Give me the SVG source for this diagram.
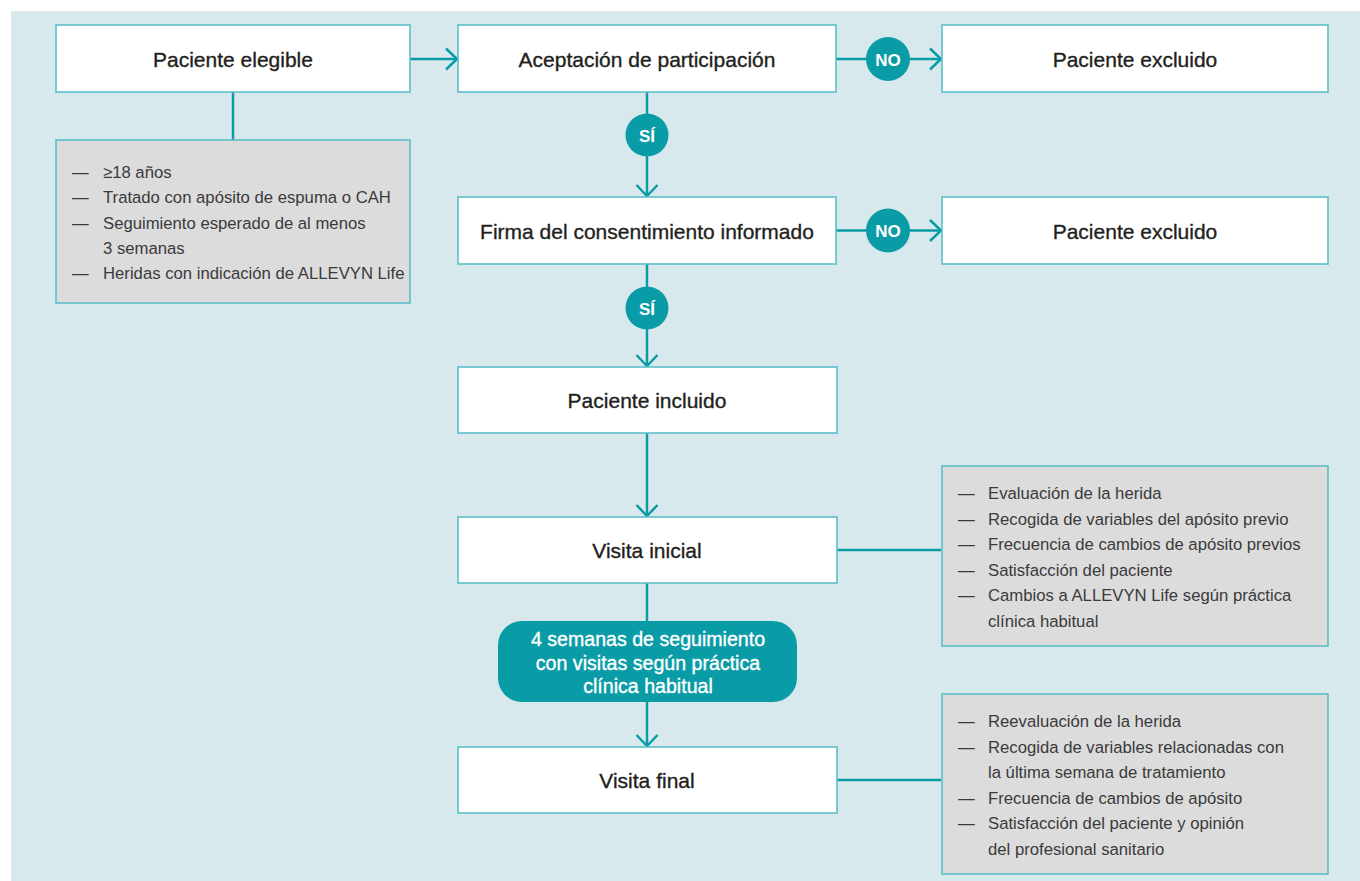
<svg xmlns="http://www.w3.org/2000/svg" width="1360" height="881" viewBox="0 0 1360 881">
<defs>
<marker id="arr" markerUnits="userSpaceOnUse" markerWidth="30" markerHeight="30" viewBox="-15 -15 30 30" refX="0" refY="0" orient="auto">
<path d="M-11,-10.5 L0,0 L-11,10.5" fill="none" stroke="#0a9ca6" stroke-width="2.5"/>
</marker>
</defs>
<style>
.bg{fill:#d8e9ee}
.box{fill:#ffffff;stroke:#5cbfc8;stroke-width:1.6}
.note{fill:#dcdcdd;stroke:#5cbfc8;stroke-width:1.6}
.title{font-family:"Liberation Sans",Arial,sans-serif;font-size:21px;fill:#231f20;stroke:#231f20;stroke-width:0.35;text-anchor:middle}
.ntext{font-family:"Liberation Sans",Arial,sans-serif;font-size:16.7px;fill:#3a3a3a}
.badge{fill:#0a9ca6}
.btext{font-family:"Liberation Sans",Arial,sans-serif;font-size:17px;font-weight:bold;fill:#ffffff;text-anchor:middle}
.wtext{font-family:"Liberation Sans",Arial,sans-serif;font-size:19.6px;fill:#ffffff;stroke:#ffffff;stroke-width:0.35;text-anchor:middle}
.ln{fill:none;stroke:#0a9ca6;stroke-width:2.5}
.ar{marker-end:url(#arr)}
</style>
<rect class="bg" x="11" y="11" width="1349" height="870"/>

<g id="connectors">
<line class="ln ar" x1="410" y1="59" x2="457" y2="59"/>
<line class="ln" x1="836" y1="59" x2="870" y2="59"/>
<line class="ln ar" x1="906" y1="59" x2="941" y2="59"/>
<line class="ln" x1="647" y1="92" x2="647" y2="120"/>
<line class="ln ar" x1="647" y1="150" x2="647" y2="196"/>
<line class="ln" x1="836" y1="230.5" x2="870" y2="230.5"/>
<line class="ln ar" x1="906" y1="230.5" x2="941" y2="230.5"/>
<line class="ln" x1="647" y1="264" x2="647" y2="292"/>
<line class="ln ar" x1="647" y1="322" x2="647" y2="366"/>
<line class="ln ar" x1="647" y1="433" x2="647" y2="516"/>
<line class="ln" x1="647" y1="583" x2="647" y2="622"/>
<line class="ln ar" x1="647" y1="702" x2="647" y2="746"/>
<line class="ln" x1="233" y1="92" x2="233" y2="140"/>
<line class="ln" x1="837" y1="550" x2="941" y2="550"/>
<line class="ln" x1="837" y1="780" x2="941" y2="780"/>
</g>

<g id="n-elegible">
<rect class="box" x="56" y="25" width="354" height="67"/>
<text class="title" x="233" y="67">Paciente elegible</text>
</g>
<g id="n-criterios">
<rect class="note" x="56" y="140" width="354" height="163"/>
<text class="ntext" x="72" y="178">—</text><text class="ntext" x="103" y="178">≥18 años</text>
<text class="ntext" x="72" y="203">—</text><text class="ntext" x="103" y="203">Tratado con apósito de espuma o CAH</text>
<text class="ntext" x="72" y="228.5">—</text><text class="ntext" x="103" y="228.5">Seguimiento esperado de al menos</text>
<text class="ntext" x="103" y="254">3 semanas</text>
<text class="ntext" x="72" y="279">—</text><text class="ntext" x="103" y="279">Heridas con indicación de ALLEVYN Life</text>
</g>
<g id="n-aceptacion">
<rect class="box" x="458" y="25" width="378" height="67"/>
<text class="title" x="647" y="67">Aceptación de participación</text>
</g>
<g id="n-no1">
<circle class="badge" cx="888" cy="59" r="22"/>
<text class="btext" x="888" y="65.5">NO</text>
</g>
<g id="n-excluido1">
<rect class="box" x="942" y="25" width="386" height="67"/>
<text class="title" x="1135" y="67">Paciente excluido</text>
</g>
<g id="n-si1">
<circle class="badge" cx="647" cy="135" r="21.5"/>
<text class="btext" x="647" y="141.5">SÍ</text>
</g>
<g id="n-firma">
<rect class="box" x="458" y="197" width="378" height="67"/>
<text class="title" x="647" y="238.5">Firma del consentimiento informado</text>
</g>
<g id="n-no2">
<circle class="badge" cx="888" cy="230.5" r="22"/>
<text class="btext" x="888" y="237">NO</text>
</g>
<g id="n-excluido2">
<rect class="box" x="942" y="197" width="386" height="67"/>
<text class="title" x="1135" y="238.5">Paciente excluido</text>
</g>
<g id="n-si2">
<circle class="badge" cx="647" cy="308" r="21.5"/>
<text class="btext" x="647" y="314.5">SÍ</text>
</g>
<g id="n-incluido">
<rect class="box" x="458" y="367" width="379" height="66"/>
<text class="title" x="647" y="408">Paciente incluido</text>
</g>
<g id="n-inicial">
<rect class="box" x="458" y="517" width="379" height="66"/>
<text class="title" x="647" y="558">Visita inicial</text>
</g>
<g id="n-inicial-notas">
<rect class="note" x="942" y="466" width="386" height="180"/>
<text class="ntext" x="958" y="499">—</text><text class="ntext" x="988" y="499">Evaluación de la herida</text>
<text class="ntext" x="958" y="524.5">—</text><text class="ntext" x="988" y="524.5">Recogida de variables del apósito previo</text>
<text class="ntext" x="958" y="550">—</text><text class="ntext" x="988" y="550">Frecuencia de cambios de apósito previos</text>
<text class="ntext" x="958" y="575.5">—</text><text class="ntext" x="988" y="575.5">Satisfacción del paciente</text>
<text class="ntext" x="958" y="601">—</text><text class="ntext" x="988" y="601">Cambios a ALLEVYN Life según práctica</text>
<text class="ntext" x="988" y="626.5">clínica habitual</text>
</g>
<g id="n-seguimiento">
<rect class="badge" x="498" y="621" width="299" height="81" rx="24" ry="24"/>
<text class="wtext" x="648" y="646">4 semanas de seguimiento</text>
<text class="wtext" x="648" y="669.5">con visitas según práctica</text>
<text class="wtext" x="648" y="693">clínica habitual</text>
</g>
<g id="n-final">
<rect class="box" x="458" y="747" width="379" height="66"/>
<text class="title" x="647" y="788">Visita final</text>
</g>
<g id="n-final-notas">
<rect class="note" x="942" y="694" width="386" height="180"/>
<text class="ntext" x="958" y="727">—</text><text class="ntext" x="988" y="727">Reevaluación de la herida</text>
<text class="ntext" x="958" y="752.5">—</text><text class="ntext" x="988" y="752.5">Recogida de variables relacionadas con</text>
<text class="ntext" x="988" y="778">la última semana de tratamiento</text>
<text class="ntext" x="958" y="803.5">—</text><text class="ntext" x="988" y="803.5">Frecuencia de cambios de apósito</text>
<text class="ntext" x="958" y="829">—</text><text class="ntext" x="988" y="829">Satisfacción del paciente y opinión</text>
<text class="ntext" x="988" y="854.5">del profesional sanitario</text>
</g>
</svg>
